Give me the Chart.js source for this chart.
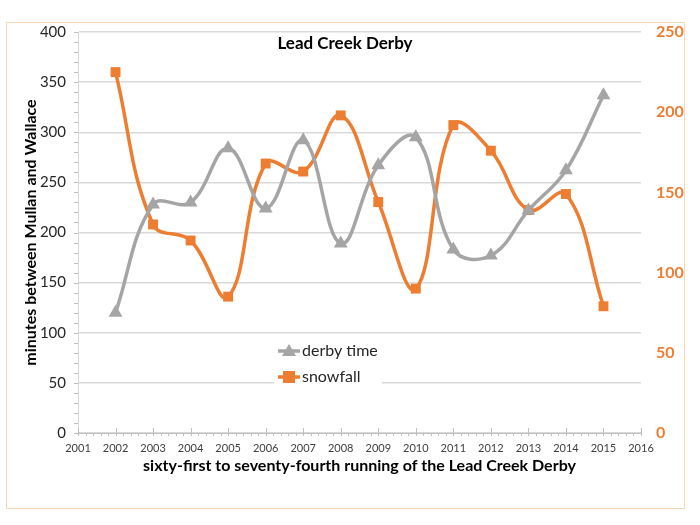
<!DOCTYPE html>
<html>
<head>
<meta charset="utf-8">
<title>Lead Creek Derby</title>
<script src="https://cdn.jsdelivr.net/npm/chart.js@4.4.1/dist/chart.umd.min.js"></script>
<style>
  body { margin: 0; background: #fff; }
  #frame { position: absolute; left: 6px; top: 22px; width: 677px; height: 485px; border: 1px solid #f7d8b6; }
  #chartBox { position: absolute; left: 0; top: 0; width: 700px; height: 525px; }
</style>
</head>
<body>
<div id="frame"></div>
<div id="chartBox"><canvas id="derbyChart" width="700" height="525"></canvas></div>
<script>
// data
const years = [2002, 2003, 2004, 2005, 2006, 2007, 2008, 2009, 2010, 2011, 2012, 2013, 2014, 2015];
const derbyTime = [120, 228, 230, 284, 224, 292, 189, 267, 295, 183, 177, 222, 262, 337];
const snowfall = [225, 130, 120, 85, 168, 163, 198, 144, 90, 192, 176, 139, 149, 79];
const xRange = [2001, 2016];
const leftRange = [0, 400];
const rightRange = [0, 250];

const chartTitle = 'Lead Creek Derby';
const seriesNames = ['derby time', 'snowfall'];
const leftAxisTitle = 'minutes between Mullan and Wallace';
const bottomAxisTitle = 'sixty-first to seventy-fourth running of the Lead Creek Derby';

const grayColor = '#a5a5a5';
const orangeColor = '#ed7d31';
const fontName = 'Lato, "Open Sans", sans-serif';

function toPoints(values) {
    let pts = [];
    for (let i = 0; i < years.length; i++) {
        pts.push({ x: years[i], y: values[i] });
    }
    return pts;
}

// minor tick marks, title and the little legend that sits inside the plot
const extrasPlugin = {
    id: 'extras',
    afterDatasetsDraw(chart) {
        const ctx = chart.ctx;
        const xs = chart.scales.x;
        const yl = chart.scales.y;
        const area = chart.chartArea;
        ctx.save();
        ctx.strokeStyle = '#bfbfbf';
        ctx.lineWidth = 1;
        // x axis ticks
        for (let v = xRange[0]; v <= xRange[1] + 0.001; v += 0.2) {
            const px = Math.round(xs.getPixelForValue(v)) + 0.5;
            const major = Math.abs(v - Math.round(v)) < 0.01;
            ctx.beginPath();
            ctx.moveTo(px, area.bottom - (major ? 5 : 0));
            ctx.lineTo(px, area.bottom + 3);
            ctx.stroke();
        }
        // left axis minor ticks
        for (let v = leftRange[0]; v <= leftRange[1]; v += 10) {
            const py = Math.round(yl.getPixelForValue(v)) + 0.5;
            ctx.beginPath();
            ctx.moveTo(area.left - 4, py);
            ctx.lineTo(area.left, py);
            ctx.stroke();
        }

        // title
        ctx.fillStyle = '#000';
        ctx.font = 'bold 17px ' + fontName;
        ctx.textAlign = 'center';
        ctx.textBaseline = 'middle';
        ctx.fillText(chartTitle, 345, 44);

        // legend
        ctx.fillStyle = '#fff';
        ctx.fillRect(274, 336, 108, 54);
        const rows = [
            { label: seriesNames[0], color: grayColor, y: 351, shape: 'triangle' },
            { label: seriesNames[1], color: orangeColor, y: 377, shape: 'square' }
        ];
        ctx.font = '16px ' + fontName;
        ctx.textAlign = 'left';
        for (let r of rows) {
            ctx.strokeStyle = r.color;
            ctx.lineWidth = 3.5;
            ctx.beginPath();
            ctx.moveTo(278, r.y);
            ctx.lineTo(300, r.y);
            ctx.stroke();
            ctx.fillStyle = r.color;
            ctx.beginPath();
            if (r.shape === 'triangle') {
                ctx.moveTo(289, r.y - 7);
                ctx.lineTo(296, r.y + 5);
                ctx.lineTo(282, r.y + 5);
                ctx.closePath();
            } else {
                ctx.rect(283, r.y - 6, 12, 12);
            }
            ctx.fill();
            ctx.fillStyle = '#262626';
            ctx.fillText(r.label, 302, r.y);
        }
        ctx.restore();
    }
};

const ctx = document.getElementById('derbyChart').getContext('2d');
const derbyChart = new Chart(ctx, {
    type: 'line',
    data: {
        datasets: [{
                label: seriesNames[0],
                data: toPoints(derbyTime),
                yAxisID: 'y',
                borderColor: grayColor,
                backgroundColor: grayColor,
                borderWidth: 3.5,
                tension: 0.4,
                pointStyle: 'triangle',
                pointRadius: 8,
                pointBorderWidth: 0
            }, {
                label: seriesNames[1],
                data: toPoints(snowfall),
                yAxisID: 'y2',
                borderColor: orangeColor,
                backgroundColor: orangeColor,
                borderWidth: 3.5,
                tension: 0.4,
                pointStyle: 'rect',
                pointRadius: 7,
                pointBorderWidth: 0
            }]
    },
    options: {
        responsive: false,
        animation: false,
        layout: {
            padding: { left: 21, right: 0, top: 32, bottom: 50 }
        },
        plugins: {
            legend: { display: false },
            title: { display: false },
            tooltip: { enabled: false }
        },
        scales: {
            x: {
                type: 'linear',
                min: xRange[0],
                max: xRange[1],
                afterFit: (scale) => { scale.height = 42; },
                ticks: {
                    stepSize: 1,
                    padding: 1,
                    color: '#404040',
                    font: { family: fontName, size: 11 },
                    callback: (v) => String(v),
                    maxRotation: 0
                },
                grid: { display: false },
                border: { display: true, color: '#bfbfbf', width: 1 },
                title: {
                    display: true,
                    text: bottomAxisTitle,
                    color: '#000',
                    font: { family: fontName, size: 16, weight: 'bold' },
                    padding: 0
                }
            },
            y: {
                position: 'left',
                min: leftRange[0],
                max: leftRange[1],
                afterFit: (scale) => { scale.width = 57; },
                ticks: {
                    stepSize: 50,
                    padding: 12,
                    color: '#262626',
                    font: { family: fontName, size: 15 }
                },
                grid: { color: '#d9d9d9', lineWidth: 1.5, drawTicks: false },
                border: { display: true, color: '#d9d9d9', width: 1 },
                title: {
                    display: true,
                    text: leftAxisTitle,
                    color: '#000',
                    font: { family: fontName, size: 16, weight: 'bold' },
                    padding: 0
                }
            },
            y2: {
                position: 'right',
                min: rightRange[0],
                max: rightRange[1],
                afterFit: (scale) => { scale.width = 59; },
                ticks: {
                    stepSize: 50,
                    padding: 7,
                    color: orangeColor,
                    font: { family: fontName, size: 16, weight: 'bold' }
                },
                grid: { display: false, drawOnChartArea: false },
                border: { display: false }
            }
        }
    },
    plugins: [extrasPlugin]
});
</script>
</body>
</html>
